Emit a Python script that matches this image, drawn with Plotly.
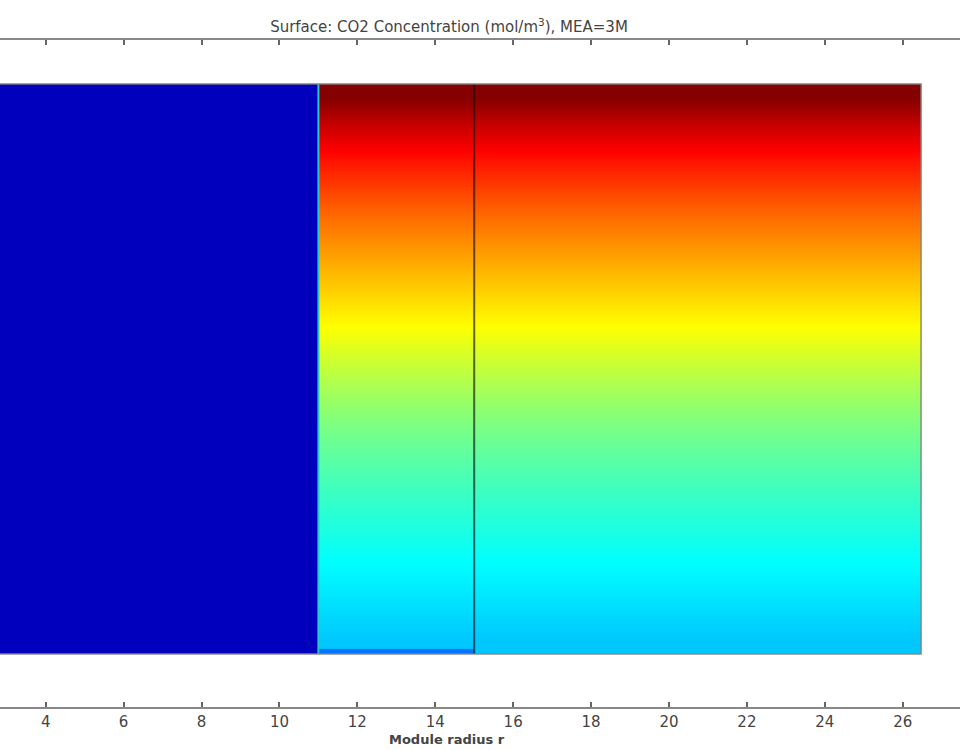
import plotly.graph_objects as go

# ---- data ----
# radial region edges (module radius r)
r_lumen = [0.0, 11.0]
r_membrane = [11.0, 15.0]
r_shell = [15.0, 26.47]
r_tick_vals = [4, 6, 8, 10, 12, 14, 16, 18, 20, 22, 24, 26]
r_tick_text = ["4", "6", "8", "10", "12", "14", "16", "18", "20", "22", "24", "26"]

# normalised axial position (cell centres, bottom -> top)
z_pos = [0.025, 0.075, 0.125, 0.175, 0.225, 0.275, 0.325, 0.375, 0.425, 0.475,
         0.525, 0.575, 0.625, 0.675, 0.725, 0.775, 0.825, 0.875, 0.925, 0.975]
# normalised CO2 concentration along the axial direction (shell / membrane side)
conc_shell = [0.321, 0.341, 0.361, 0.382, 0.406, 0.430, 0.455, 0.482, 0.512, 0.548,
              0.585, 0.626, 0.662, 0.700, 0.738, 0.776, 0.820, 0.866, 0.925, 0.995]
conc_membrane = conc_shell
# lumen side (liquid) concentration – uniform
conc_lumen = [0.06]
z_lumen = [0.0, 1.0]
# thin depleted strip at the bottom of the membrane
z_strip = [0.0, 0.009]
conc_strip = [0.24]

jet = [[0.0, "rgb(0,0,128)"], [0.125, "rgb(0,0,255)"], [0.375, "rgb(0,255,255)"],
       [0.625, "rgb(255,255,0)"], [0.875, "rgb(255,0,0)"], [1.0, "rgb(128,0,0)"]]

fig = go.Figure()

# lumen region (uniform dark blue)
fig.add_trace(go.Heatmap(x=r_lumen, y=z_lumen, z=[conc_lumen],
                         zmin=0, zmax=1, colorscale=jet, showscale=False,
                         hoverinfo="skip"))
# membrane region
fig.add_trace(go.Heatmap(x=r_membrane, y=z_pos, z=[[v] for v in conc_membrane],
                         zmin=0, zmax=1, colorscale=jet, showscale=False,
                         zsmooth="best", hoverinfo="skip"))
# shell region
fig.add_trace(go.Heatmap(x=r_shell, y=z_pos, z=[[v] for v in conc_shell],
                         zmin=0, zmax=1, colorscale=jet, showscale=False,
                         zsmooth="best", hoverinfo="skip"))
# depleted strip
fig.add_trace(go.Heatmap(x=r_membrane, y=z_strip, z=[conc_strip],
                         zmin=0, zmax=1, colorscale=jet, showscale=False,
                         hoverinfo="skip"))

# boundary lines
fig.add_trace(go.Scatter(x=[r_membrane[0], r_membrane[0]], y=[0, 1], mode="lines",
                         line=dict(color="rgb(40,200,190)", width=2),
                         showlegend=False, hoverinfo="skip"))
fig.add_trace(go.Scatter(x=[r_shell[0], r_shell[0]], y=[0, 1], mode="lines",
                         line=dict(color="rgba(0,0,0,0.6)", width=2),
                         showlegend=False, hoverinfo="skip"))
fig.add_trace(go.Scatter(x=[r_lumen[0], r_shell[1], r_shell[1], r_lumen[0]],
                         y=[1, 1, 0, 0], mode="lines",
                         line=dict(color="rgba(130,130,130,0.9)", width=1.5),
                         showlegend=False, hoverinfo="skip"))

fig.update_layout(
    width=960, height=750,
    margin=dict(l=0, r=0, t=40, b=43),
    paper_bgcolor="white", plot_bgcolor="white",
    showlegend=False,
    font=dict(family="DejaVu Sans", size=14, color="#444"),
    title=dict(text="Surface: CO2 Concentration (mol/m<sup>3</sup>), MEA=3M",
               x=449 / 960, xanchor="center", y=1 - 27 / 750, yanchor="middle",
               font=dict(family="DejaVu Sans", size=15, color="#444")),
    xaxis=dict(range=[2.827, 27.47], tickvals=r_tick_vals, ticktext=r_tick_text,
               ticks="inside", ticklen=5, tickwidth=1.5, tickcolor="#666",
               showline=True, linecolor="#888", linewidth=1.5, mirror="ticks",
               showgrid=False, zeroline=False,
               tickfont=dict(family="DejaVu Sans", size=15, color="#444")),
    yaxis=dict(range=[-0.093, 1.077], visible=False),
    annotations=[dict(text="<b>Module radius r</b>", xref="paper", yref="paper",
                      x=447 / 960, y=-(740 - 707) / 667, xanchor="center",
                      yanchor="middle", showarrow=False,
                      font=dict(family="DejaVu Sans", size=13, color="#444"))],
)

fig.write_html("out.html", config={"displayModeBar": False},
               post_script="document.body.style.margin='0';")
